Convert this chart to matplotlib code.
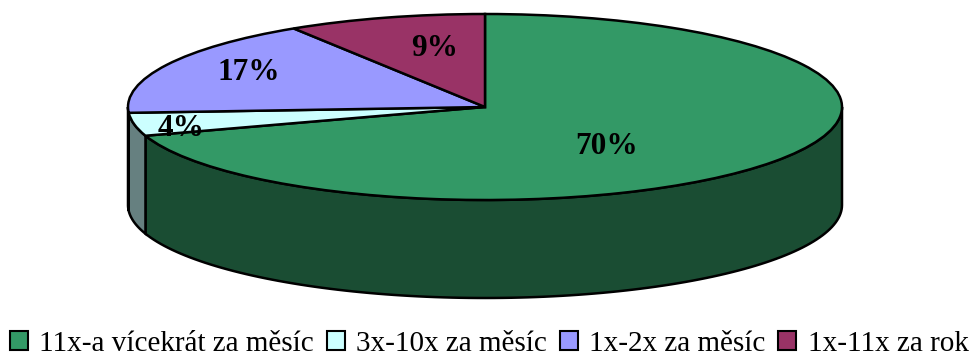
import numpy as np
import matplotlib
matplotlib.use("Agg")
import matplotlib.pyplot as plt
from matplotlib.patches import Patch
from matplotlib.transforms import Affine2D

categories = ["11x-a vícekrát za měsíc", "3x-10x za měsíc", "1x-2x za měsíc", "1x-11x za rok"]
values = [70, 4, 17, 9]
labels = ["70%", "4%", "17%", "9%"]
colors = ["#339966", "#CCFFFF", "#9999FF", "#993366"]
side_colors = ["#1A4D33", "#668080", "#4D4D80", "#4D1A33"]
label_x = [607, 181, 249, 435]
label_y = [146, 128, 73, 48]

cx, cy = 485, 107
rx, ry = 357, 93
depth = 98

plt.rcParams["font.family"] = ["Liberation Serif", "DejaVu Serif"]

fig = plt.figure(figsize=(9.71, 3.58), dpi=100)
ax = fig.add_axes([0, 0, 1, 1])

wedges, _ = ax.pie(values, startangle=90, counterclock=False, radius=1,
                   colors=colors, wedgeprops=dict(edgecolor="black", linewidth=1.8, zorder=3))
ax.set_aspect("auto")
ax.set_xlim(0, 971)
ax.set_ylim(358, 0)
ax.axis("off")

# squash the unit pie into an ellipse, in pixel-like data coordinates
squash = Affine2D().scale(rx, -ry).translate(cx, cy) + ax.transData
for w in wedges:
    w.set_transform(squash)

# side wall of the disc, only the part between the right and left extremes is visible
edges = np.cumsum([0] + values) / 100 * 360
for i in range(len(values)):
    a0 = max(edges[i], 90)
    a1 = min(edges[i + 1], 270)
    if a1 <= a0:
        continue
    t = np.radians(np.linspace(a0, a1, 120))
    x = cx + rx * np.sin(t)
    y = cy - ry * np.cos(t)
    ax.fill(np.r_[x, x[::-1]], np.r_[y, y[::-1] + depth],
            facecolor=side_colors[i], edgecolor="black", linewidth=1.8, zorder=2)

for i, lab in enumerate(labels):
    txt = ax.text(label_x[i], label_y[i], lab, fontsize=22.5, fontweight="bold",
                  ha="center", va="center", zorder=4)
    if lab == "4%":
        # the thin slice cuts this label off at its lower edge
        txt.set_clip_path(wedges[i])

handles = [Patch(facecolor=c, edgecolor="black", linewidth=1.5) for c in colors]
ax.legend(handles, categories, loc="lower center", bbox_to_anchor=(0.5036, -0.054), ncol=4, frameon=False,
          fontsize=21, handlelength=0.62, handleheight=0.62, handletextpad=0.38,
          columnspacing=0.45, borderpad=0.2)

fig.savefig("out.png", dpi=100)
